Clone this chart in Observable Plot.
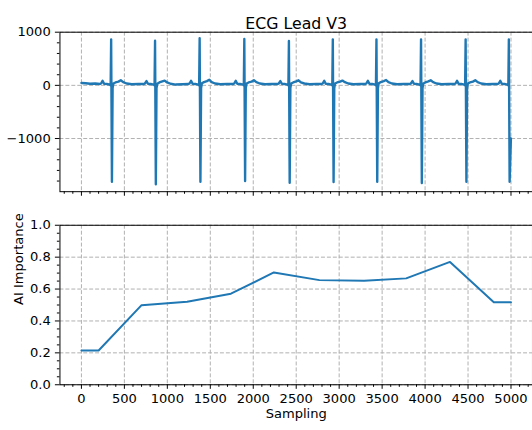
<!DOCTYPE html>
<html>
<head>
<meta charset="utf-8">
<script src="https://cdn.jsdelivr.net/npm/d3@7"></script>
<script src="https://cdn.jsdelivr.net/npm/@observablehq/plot@0.6"></script>
<style>
  html, body { margin: 0; padding: 0; background: #fff; }
  #wrap { position: relative; width: 532px; height: 430px; overflow: hidden; }
  #wrap svg { display: block; }
</style>
</head>
<body>
<div id="wrap"></div>
<script>
// ---- data ----
const titleText = "ECG Lead V3";
const xLabel = "Sampling";
const yLabelBottom = "AI Importance";

const ecgSample = [0,50,100,160,
216,228,246,264,296,331,340,346,355,363,372,396,431,458,486,526,586,666,
727,739,757,775,807,842,851,857,866,874,883,907,942,969,997,1037,1097,1177,
1246,1258,1276,1294,1326,1361,1370,1376,1385,1393,1402,1426,1461,1488,1516,1556,1616,1696,
1766,1778,1796,1814,1846,1881,1890,1896,1905,1913,1922,1946,1981,2008,2036,2076,2136,2216,
2285,2297,2315,2333,2365,2400,2409,2415,2424,2432,2441,2465,2500,2527,2555,2595,2655,2735,
2796,2808,2826,2844,2876,2911,2920,2926,2935,2943,2952,2976,3011,3038,3066,3106,3166,3246,
3304,3316,3334,3352,3384,3419,3428,3434,3443,3451,3460,3484,3519,3546,3574,3614,3674,3754,
3823,3835,3853,3871,3903,3938,3947,3953,3962,3970,3979,4003,4038,4065,4093,4133,4193,4273,
4342,4354,4372,4390,4422,4457,4466,4472,4481,4489,4498,4522,4557,4584,4612,4652,4712,4792,
4845,4857,4875,4893,4925,4960,4969,4975,4984,4999];

const ecgValue = [45,40,30,35,
25,35,85,30,25,15,0,866,-1813,-50,35,55,70,95,60,35,20,25,
25,35,80,30,25,15,0,841,-1862,-50,30,55,75,90,55,30,15,20,
25,35,85,30,25,15,0,886,-1813,-50,40,60,80,105,60,35,20,25,
25,35,85,30,25,15,0,873,-1800,-50,35,55,70,95,60,35,20,25,
25,35,80,30,25,15,0,835,-1832,-50,35,55,75,95,55,35,20,25,
25,35,85,30,25,15,0,866,-1819,-50,35,55,70,90,60,35,20,25,
25,35,85,30,25,15,0,866,-1813,-50,40,60,80,100,60,35,20,25,
25,35,80,30,25,15,0,866,-1838,-50,35,55,75,95,60,35,20,25,
25,35,85,30,25,15,0,866,-1813,-50,35,55,70,95,60,35,20,25,
25,35,85,30,25,15,0,866,-1813,-1000];

const impSample = [0, 200, 700, 1230, 1740, 2240, 2770, 3290, 3780, 4290, 4800, 5000];
const impValue  = [0.215, 0.215, 0.499, 0.52, 0.571, 0.704, 0.656, 0.652, 0.667, 0.770, 0.517, 0.517];

const xMajorTicks = [0, 500, 1000, 1500, 2000, 2500, 3000, 3500, 4000, 4500, 5000];
const ecgMajorTicks = [-1000, 0, 1000];
const impMajorTicks = [0, 0.2, 0.4, 0.6, 0.8, 1.0];

// ---- build tables ----
const ecg = ecgSample.map((s, i) => ({s, v: ecgValue[i]}));
const imp = impSample.map((s, i) => ({s, v: impValue[i]}));
const xMinor = d3.range(-200, 5201, 100).filter(d => d % 500 !== 0);
const ecgMinor = d3.range(-2000, 1001, 200).filter(d => d % 1000 !== 0);
const impMinor = d3.range(0, 21).map(i => i * 0.05).filter((d, i) => i % 4 !== 0);

const blue = "#1f77b4";
const gridColor = "#b0b0b0";
const font = "DejaVu Sans, sans-serif";
const W = 537;
const xDomain = [-250, 5250];
const fmtNum = d => d < 0 ? "\u2212" + Math.abs(d) : String(d);

const topChart = Plot.plot({
  width: W, height: 200,
  marginLeft: 60, marginRight: 0, marginTop: 32, marginBottom: 7,
  style: {fontFamily: font, fontSize: "13.2px", color: "#000", background: "transparent", overflow: "visible"},
  x: {domain: xDomain},
  y: {domain: [-2000, 1000]},
  marks: [
    Plot.gridX(xMajorTicks, {stroke: gridColor, strokeOpacity: 1, strokeWidth: 1, strokeDasharray: "4,2"}),
    Plot.gridY(ecgMajorTicks, {stroke: gridColor, strokeOpacity: 1, strokeWidth: 1, strokeDasharray: "4,2"}),
    Plot.line(ecg, {x: "s", y: "v", stroke: blue, strokeWidth: 2.4, strokeLinejoin: "round"}),
    Plot.axisX({ticks: xMajorTicks, tickSize: 4.6, tickFormat: () => "", label: null}),
    Plot.axisX({ticks: xMinor, tickSize: 2.6, tickFormat: () => "", label: null}),
    Plot.axisY({ticks: ecgMajorTicks, tickSize: 4.6, tickPadding: 4.7, tickFormat: fmtNum, label: null}),
    Plot.axisY({ticks: ecgMinor, tickSize: 2.6, tickFormat: () => "", label: null}),
    Plot.frame({stroke: "#000", strokeWidth: 1}),
    Plot.text([titleText], {frameAnchor: "top", dy: -14.5, fontSize: 15.9, fill: "#000"})
  ]
});

const bottomChart = Plot.plot({
  width: W, height: 230,
  marginLeft: 60, marginRight: 0, marginTop: 25, marginBottom: 44,
  style: {fontFamily: font, fontSize: "13.2px", color: "#000", background: "transparent", overflow: "visible"},
  x: {domain: xDomain},
  y: {domain: [0, 1]},
  marks: [
    Plot.gridX(xMajorTicks, {stroke: gridColor, strokeOpacity: 1, strokeWidth: 1, strokeDasharray: "4,2"}),
    Plot.gridY(impMajorTicks, {stroke: gridColor, strokeOpacity: 1, strokeWidth: 1, strokeDasharray: "4,2"}),
    Plot.line(imp, {x: "s", y: "v", stroke: blue, strokeWidth: 2}),
    Plot.axisX({ticks: xMajorTicks, tickSize: 4.6, tickPadding: 4.6, tickFormat: d => String(d), label: null}),
    Plot.axisX({ticks: xMinor, tickSize: 2.6, tickFormat: () => "", label: null}),
    Plot.axisY({ticks: impMajorTicks, tickSize: 4.6, tickPadding: 4.7, tickFormat: d => d.toFixed(1), label: null}),
    Plot.axisY({ticks: impMinor, tickSize: 2.6, tickFormat: () => "", label: null}),
    Plot.frame({stroke: "#000", strokeWidth: 1}),
    Plot.text([xLabel], {frameAnchor: "bottom", dy: 34, fontSize: 13.2, fill: "#000"}),
    Plot.text([yLabelBottom], {frameAnchor: "left", dx: -42, rotate: -90, fontSize: 13.2, fill: "#000"})
  ]
});

const wrap = document.getElementById("wrap");
topChart.style.position = "absolute"; topChart.style.left = "0px"; topChart.style.top = "0px";
bottomChart.style.position = "absolute"; bottomChart.style.left = "0px"; bottomChart.style.top = "200px";
wrap.appendChild(topChart);
wrap.appendChild(bottomChart);
</script>
</body>
</html>
